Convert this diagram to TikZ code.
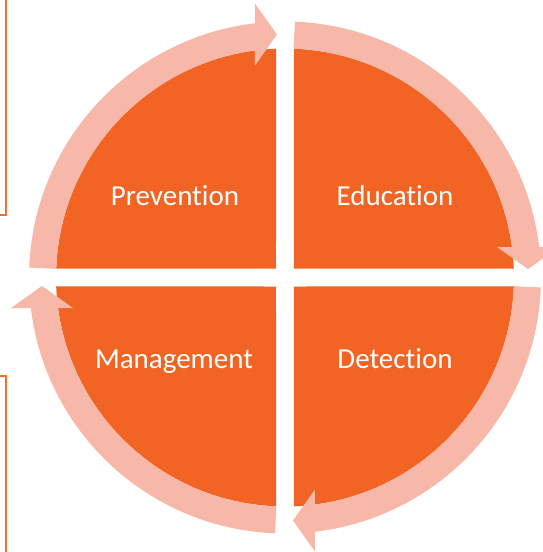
\documentclass[tikz,border=0pt]{standalone}
\usepackage{fontspec}
\setmainfont[Ligatures=NoCommon]{Carlito}
\definecolor{quadorange}{HTML}{F26424}
\definecolor{bandpink}{HTML}{F7B8A9}
\definecolor{frameorange}{HTML}{F3702E}
\begin{document}
\begin{tikzpicture}[x=1pt,y=1pt,
  quad/.style={fill=quadorange},
  band/.style={draw=bandpink, line width=27pt},
  head/.style={fill=bandpink},
  lbl/.style={text=white, font=\fontsize{29}{34}\selectfont, anchor=base},
  frameline/.style={draw=frameorange, line width=2.2pt}]
  % canvas: origin at the centre of the cycle
  \useasboundingbox (-285,-274.5) rectangle (258,277.5);
  \clip (-285,-274.5) rectangle (258,277.5);

  % four orange quarter discs separated by a white cross
  \path[quad] (-9,9) -- (177.75:229) arc[start angle=177.75, end angle=92.25, radius=229] -- cycle;
  \path[quad] (9,9) -- (87.75:229) arc[start angle=87.75, end angle=2.25, radius=229] -- cycle;
  \path[quad] (9,-9) -- (-2.25:229) arc[start angle=-2.25, end angle=-87.75, radius=229] -- cycle;
  \path[quad] (-9,-9) -- (-92.25:229) arc[start angle=-92.25, end angle=-177.75, radius=229] -- cycle;

  % clockwise arc arrows around each quarter
  \draw[band] (177.8:242.5) arc[start angle=177.8, end angle=96, radius=242.5];
  \path[head] (-8,243) -- (-30,274) -- (-30,212) -- cycle;

  \draw[band] (87.8:242.5) arc[start angle=87.8, end angle=6, radius=242.5];
  \path[head] (243,8.5) -- (212,30.5) -- (274,30.5) -- cycle;

  \draw[band] (-2.2:242.5) arc[start angle=-2.2, end angle=-84, radius=242.5];
  \path[head] (8,-243) -- (30,-274) -- (30,-212) -- cycle;

  \draw[band] (-92.2:242.5) arc[start angle=-92.2, end angle=-174, radius=242.5];
  \path[head] (-243,-8.5) -- (-274,-30.5) -- (-212,-30.5) -- cycle;

  % labels
  \node[lbl] (prevention) at (-110,72.5) {Prevention};
  \node[lbl] (education) at (110,72.5) {Education};
  \node[lbl] (management) at (-111,-90.5) {Management};
  \node[lbl] (detection) at (110,-90.5) {Detection};

  % edges of the two side frames
  \draw[frameline] (-279,290) -- (-279,62.5) -- (-290,62.5);
  \draw[frameline] (-290,-98.5) -- (-279,-98.5) -- (-279,-290);
\end{tikzpicture}
\end{document}
